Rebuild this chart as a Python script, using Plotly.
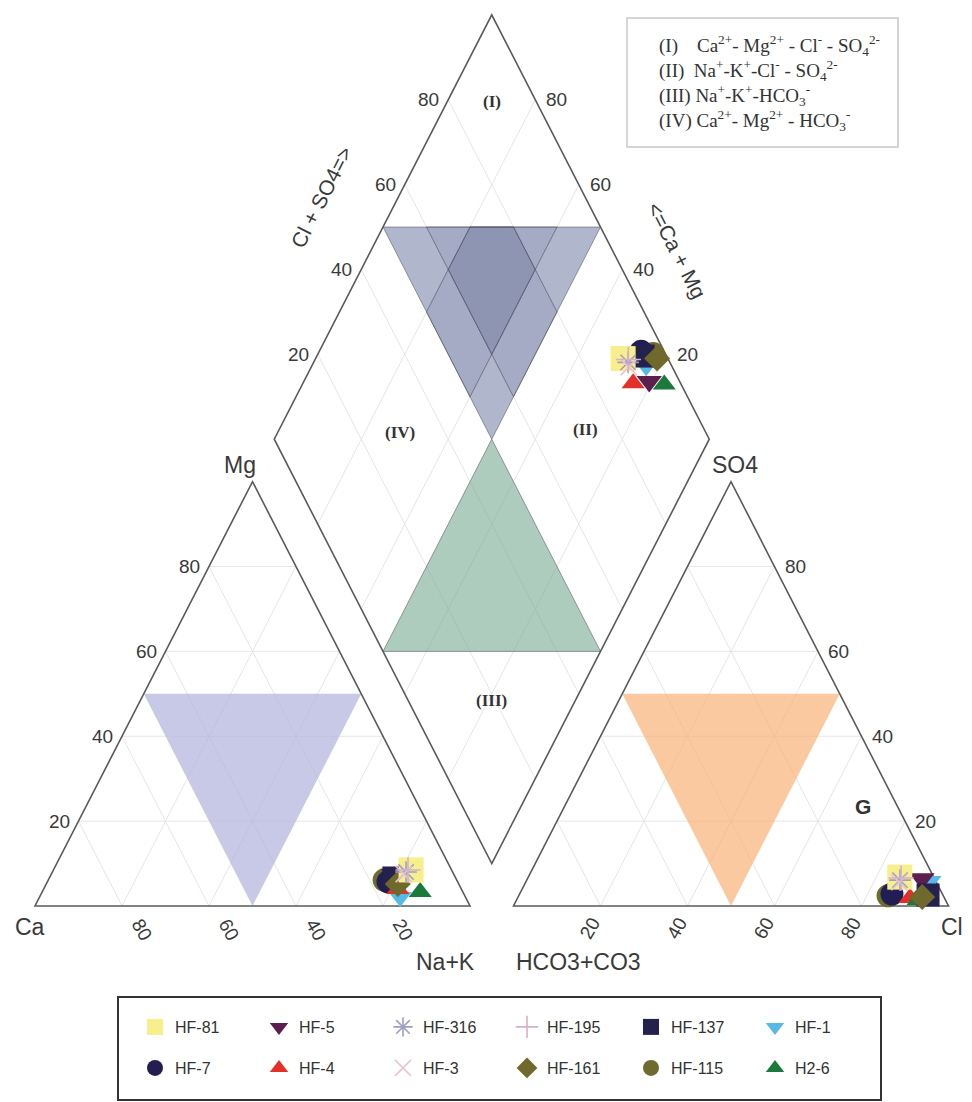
import math
import plotly.graph_objects as go

# ---------------- data ----------------
samples = ["HF-81", "HF-7", "HF-5", "HF-4", "HF-316", "HF-3",
           "HF-195", "HF-161", "HF-137", "HF-115", "HF-1", "H2-6"]
# cation triangle (%)
ca_pct = [9.3, 16.0, 13.9, 14.6, 10.7, 11.5, 10.0, 14.0, 14.2, 16.7, 15.0, 9.8]
mg_pct = [8.5, 5.7, 7.5, 4.0, 8.0, 7.5, 8.5, 5.2, 6.6, 6.1, 2.1, 3.3]
nak_pct = [82.2, 78.3, 78.6, 81.4, 81.3, 81.0, 81.5, 80.8, 79.2, 77.2, 82.9, 86.9]
# anion triangle (%)
hco3_pct = [7.8, 11.6, 2.9, 7.9, 8.1, 8.5, 7.6, 5.0, 3.4, 12.7, 1.3, 6.3]
so4_pct = [6.8, 2.8, 6.4, 1.9, 6.1, 5.6, 6.6, 2.1, 2.6, 2.4, 5.9, 1.4]
cl_pct = [85.4, 85.6, 90.7, 90.2, 85.8, 85.9, 85.8, 92.9, 94.0, 84.9, 92.8, 92.3]
# diamond (%)
dia_clso4 = [89.7, 94.7, 93.0, 89.1, 90.4, 90.0, 90.8, 97.5, 94.6, 97.2, 94.1, 96.1]
dia_camg = [29.3, 26.0, 20.6, 24.1, 27.7, 27.0, 28.0, 21.5, 25.0, 23.0, 23.1, 16.8]

tick_vals = [20, 40, 60, 80]
legend_row1 = ["HF-81", "HF-5", "HF-316", "HF-195", "HF-137", "HF-1"]
legend_row2 = ["HF-7", "HF-4", "HF-3", "HF-161", "HF-115", "H2-6"]
draw_order = ["HF-1", "HF-115", "HF-7", "HF-4", "H2-6", "HF-5", "HF-137",
              "HF-161", "HF-81", "HF-316", "HF-3", "HF-195"]

styles = {
    "HF-81": dict(symbol="square", color="#F7EE8C", size=25),
    "HF-7": dict(symbol="circle", color="#221D52", size=23),
    "HF-5": dict(symbol="triangle-down", color="#5B1E4E", size=22),
    "HF-4": dict(symbol="triangle-up", color="#E5302A", size=20),
    "HF-316": dict(symbol="asterisk-open", color="#9EA0C2", size=18),
    "HF-3": dict(symbol="x-thin-open", color="#EBC3D5", size=16),
    "HF-195": dict(symbol="cross-thin-open", color="#D6B0CA", size=18),
    "HF-161": dict(symbol="diamond", color="#6F6A2B", size=20),
    "HF-137": dict(symbol="square", color="#25214F", size=23),
    "HF-115": dict(symbol="circle", color="#6D6B2E", size=23),
    "HF-1": dict(symbol="triangle-down", color="#56B9E8", size=20),
    "H2-6": dict(symbol="triangle-up", color="#1B7A3B", size=20),
}

# ---------------- geometry ----------------
H = math.sqrt(3) / 2
GAP = 10.0
X0_LEFT, X0_RIGHT = 0.0, 100.0 + GAP
BX, BY = 100.0 + GAP / 2, GAP * H


def tri(x0, right, top):
    return (x0 + right + top / 2.0, top * H)


def dia(s, t):
    return (BX + 50 * s - 50 * t, BY + 100 * H * s + 100 * H * t)


# pixel <-> data (layout only)
SX, SY, PX0, PY0 = 4.35, 4.9, 35.0, 906.0
XR = [(0 - PX0) / SX, (972 - PX0) / SX]
YR = [(PY0 - 1102) / SY, PY0 / SY]


def px(x):
    return (x - PX0) / SX


def py(y):
    return (PY0 - y) / SY


def path(pts, close=True):
    s = "M " + " L ".join(f"{x:.3f},{y:.3f}" for x, y in pts)
    return s + (" Z" if close else "")


shapes = []


def poly(pts, fill, line="rgba(80,80,100,0.55)", width=1, layer="below"):
    shapes.append(dict(type="path", path=path(pts), fillcolor=fill,
                       line=dict(color=line, width=width), layer=layer,
                       xref="x", yref="y"))


def seg(a, b, color="#E6E6E6", width=1):
    shapes.append(dict(type="line", x0=a[0], y0=a[1], x1=b[0], y1=b[1],
                       line=dict(color=color, width=width), layer="below",
                       xref="x", yref="y"))


# gridlines
for x0 in (X0_LEFT, X0_RIGHT):
    for p in tick_vals:
        seg(tri(x0, 0, p), tri(x0, 100 - p, p))
        seg(tri(x0, p, 0), tri(x0, p, 100 - p))
        seg(tri(x0, 100 - p, 0), tri(x0, 0, 100 - p))
for p in tick_vals:
    f = p / 100
    seg(dia(f, 0), dia(f, 1))
    seg(dia(0, f), dia(1, f))

# shaded fields
for x0, col in ((X0_LEFT, "rgba(178,180,220,0.72)"), (X0_RIGHT, "rgba(248,178,120,0.70)")):
    poly([tri(x0, 0, 50), tri(x0, 50, 50), tri(x0, 50, 0)], col, line="rgba(0,0,0,0)", width=0)
poly([dia(0.5, 1.0), dia(1.0, 0.5), dia(0.5, 0.5)], "rgba(112,122,162,0.55)")
poly([dia(0.6, 0.5), dia(0.8, 0.5), dia(0.8, 0.7), dia(0.6, 0.9)], "rgba(90,98,140,0.12)")
poly([dia(0.5, 0.6), dia(0.5, 0.8), dia(0.7, 0.8), dia(0.9, 0.6)], "rgba(90,98,140,0.12)")
poly([dia(0.6, 0.6), dia(0.8, 0.6), dia(0.8, 0.7), dia(0.7, 0.8), dia(0.6, 0.8)], "rgba(90,98,140,0.20)")
poly([dia(0, 0.5), dia(0.5, 0), dia(0.5, 0.5)], "rgba(120,170,145,0.60)")

# outlines
OUT = dict(fill="rgba(0,0,0,0)", line="#5A5A5A", width=1.6)
poly([tri(X0_LEFT, 0, 0), tri(X0_LEFT, 100, 0), tri(X0_LEFT, 0, 100)], **OUT)
poly([tri(X0_RIGHT, 0, 0), tri(X0_RIGHT, 100, 0), tri(X0_RIGHT, 0, 100)], **OUT)
poly([dia(0, 0), dia(1, 0), dia(1, 1), dia(0, 1)], **OUT)

# boxes
shapes.append(dict(type="rect", xref="x", yref="y", x0=px(627), x1=px(898), y0=py(18), y1=py(147),
                   line=dict(color="#C8C8C8", width=1.5), fillcolor="rgba(0,0,0,0)"))
shapes.append(dict(type="rect", xref="x", yref="y", x0=px(118), x1=px(881), y0=py(997), y1=py(1100),
                   line=dict(color="#333333", width=2), fillcolor="rgba(0,0,0,0)"))

# ---------------- annotations ----------------
ann = []
NUMF = dict(family="Liberation Sans, Arial", size=19, color="#3A3A3A")
LBLF = dict(family="Liberation Sans, Arial", size=23, color="#3A3A3A")
ROMF = dict(family="Liberation Serif, Times New Roman", size=17, color="#333333")


def text(x, y, t, font, xs=0, ys=0, xa="center", ya="middle", angle=0):
    ann.append(dict(x=x, y=y, xref="x", yref="y", text=t, showarrow=False, font=font,
                    xshift=xs, yshift=ys, xanchor=xa, yanchor=ya, textangle=angle))


for p in tick_vals:
    f = p / 100
    x, y = tri(X0_LEFT, 0, p)
    text(x, y, str(p), NUMF, xs=-7, xa="right")
    x, y = tri(X0_LEFT, 100 - p, 0)            # Ca = p
    text(x, y, str(p), NUMF, xs=20, ys=-23, angle=60)
    x, y = tri(X0_RIGHT, p, 0)                 # Cl = p
    text(x, y, str(p), NUMF, xs=-11, ys=-22, angle=-60)
    x, y = tri(X0_RIGHT, 100 - p, p)           # SO4 = p
    text(x, y, str(p), NUMF, xs=8, xa="left")
    x, y = dia(f, 1)                           # Cl+SO4
    text(x, y, str(p), NUMF, xs=-7, xa="right")
    x, y = dia(1, f)                           # Ca+Mg
    text(x, y, str(p), NUMF, xs=9, xa="left")

text(px(30), py(927), "Ca", LBLF)
text(px(445), py(962), "Na+K", LBLF)
text(px(578), py(962), "HCO3+CO3", LBLF)
text(px(952), py(927), "Cl", LBLF)
text(px(240), py(465), "Mg", LBLF)
text(px(735), py(465), "SO4", LBLF)
text(px(863), py(806), "<b>G</b>", dict(family="Liberation Sans, Arial", size=21, color="#333333"))
text(px(321), py(197), "Cl + SO4=>", dict(family="Liberation Sans, Arial", size=21, color="#3A3A3A"), angle=-63)
text(px(677), py(250), "<=Ca + Mg", dict(family="Liberation Sans, Arial", size=21, color="#3A3A3A"), angle=63)

text(px(492), py(101), "<b>(I)</b>", ROMF)
text(px(400), py(432), "<b>(IV)</b>", ROMF)
text(px(585), py(429), "<b>(II)</b>", ROMF)
text(px(491), py(700), "<b>(III)</b>", ROMF)

NB = "\u00a0"
box_lines = [
    "(I)" + NB * 4 + "Ca<sup>2+</sup>- Mg<sup>2+</sup> - Cl<sup>-</sup> - SO<sub>4</sub><sup>2-</sup>",
    "(II)" + NB * 2 + "Na<sup>+</sup>-K<sup>+</sup>-Cl<sup>-</sup> - SO<sub>4</sub><sup>2-</sup>",
    "(III)" + NB + "Na<sup>+</sup>-K<sup>+</sup>-HCO<sub>3</sub><sup>-</sup>",
    "(IV)" + NB + "Ca<sup>2+</sup>- Mg<sup>2+</sup> - HCO<sub>3</sub><sup>-</sup>",
]
BOXF = dict(family="Liberation Serif, Times New Roman", size=19, color="#333333")
for i, line in enumerate(box_lines):
    text(px(657), py(45 + 25 * i), line, BOXF, xa="left")

# ---------------- traces ----------------
fig = go.Figure()
idx = {s: i for i, s in enumerate(samples)}
for name in draw_order:
    i = idx[name]
    st = styles[name]
    pts = [tri(X0_LEFT, nak_pct[i], mg_pct[i]),
           dia(dia_clso4[i] / 100, dia_camg[i] / 100),
           tri(X0_RIGHT, cl_pct[i], so4_pct[i])]
    open_sym = st["symbol"].endswith("open")
    marker = dict(symbol=st["symbol"], size=st["size"], color=st["color"],
                  line=dict(color=st["color"], width=1.6 if open_sym else 0))
    row2 = name in legend_row2
    rank = (legend_row2.index(name) if row2 else legend_row1.index(name)) + 1
    fig.add_trace(go.Scatter(x=[p[0] for p in pts], y=[p[1] for p in pts], mode="markers",
                             name=name, marker=marker, legendrank=rank,
                             legend="legend2" if row2 else "legend",
                             hovertemplate=name + "<extra></extra>"))

LEGF = dict(family="Liberation Sans, Arial", size=16, color="#333333")
leg_common = dict(orientation="h", xanchor="left", x=135 / 972, yanchor="middle",
                  entrywidth=79, entrywidthmode="pixels", font=LEGF,
                  bgcolor="rgba(0,0,0,0)", borderwidth=0, traceorder="normal",
                  itemclick=False, itemdoubleclick=False)
fig.update_layout(
    width=972, height=1102,
    margin=dict(l=0, r=0, t=0, b=0, autoexpand=False),
    paper_bgcolor="white", plot_bgcolor="white",
    xaxis=dict(range=XR, visible=False, fixedrange=True),
    yaxis=dict(range=YR, visible=False, fixedrange=True),
    shapes=shapes, annotations=ann,
    showlegend=True,
    legend=dict(y=1 - 1027 / 1102, **leg_common),
    legend2=dict(y=1 - 1068 / 1102, **leg_common),
)
fig.write_html("out.html")
